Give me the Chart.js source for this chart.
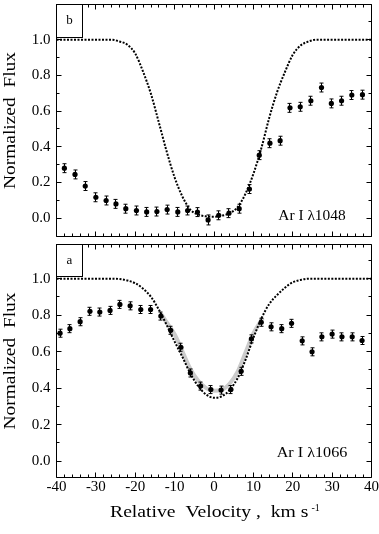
<!DOCTYPE html>
<html>
<head>
<meta charset="utf-8">
<script src="https://cdn.jsdelivr.net/npm/chart.js@4.4.1/dist/chart.umd.min.js"></script>
<style>
  html, body { margin: 0; padding: 0; background: #fff; }
  #wrap { position: relative; width: 379px; height: 534px; }
  canvas { position: absolute; left: 0; }
  #top { top: 0; }
  #bottom { top: 240px; }
</style>
</head>
<body>
<div id="wrap">
  <canvas id="top" width="379" height="240"></canvas>
  <canvas id="bottom" width="379" height="294"></canvas>
</div>
<script>
// panel b: Ar I 1048, measured points and model profile
const velB = [-38.0, -35.3, -32.7, -30.0, -27.4, -24.9, -22.4, -19.7, -17.1, -14.5, -11.9, -9.2, -6.7, -4.2, -1.5,
  1.2, 3.8, 6.4, 9.0, 11.5, 14.2, 16.8, 19.3, 21.9, 24.6, 27.3, 29.8, 32.4, 35.0, 37.7];
const fluxB = [0.28, 0.245, 0.18, 0.117, 0.099, 0.08, 0.053, 0.043, 0.035, 0.037, 0.048, 0.035, 0.043, 0.034, -0.01,
  0.016, 0.028, 0.053, 0.163, 0.353, 0.42, 0.434, 0.618, 0.624, 0.658, 0.732, 0.643, 0.658, 0.69, 0.692];
const errB = [0.025, 0.025, 0.025, 0.025, 0.025, 0.025, 0.025, 0.025, 0.025, 0.025, 0.025, 0.025, 0.025, 0.025, 0.028,
  0.025, 0.025, 0.025, 0.025, 0.025, 0.025, 0.025, 0.025, 0.025, 0.025, 0.025, 0.025, 0.025, 0.025, 0.025];
const modelVelB = [-40, -26, -24, -22, -20, -18, -16, -14, -12, -10, -8, -6, -4, -2, 0, 2, 4, 6, 8, 10, 12, 14, 16, 18, 20, 22, 24, 26, 40];
const modelB = [1.0, 1.0, 0.99, 0.972, 0.922, 0.82, 0.695, 0.535, 0.372, 0.228, 0.12, 0.047, 0.02, 0.01, 0.008,
  0.014, 0.028, 0.062, 0.137, 0.248, 0.39, 0.56, 0.705, 0.818, 0.915, 0.968, 0.99, 1.0, 1.0];

// panel a: Ar I 1066, measured points, model profile and fit
const velA = [-39.1, -36.6, -34.0, -31.5, -29.0, -26.4, -23.9, -21.3, -18.6, -16.1, -13.5, -11.0, -8.4, -6.0, -3.4,
  -0.8, 1.8, 4.3, 6.9, 9.5, 12.0, 14.5, 17.2, 19.7, 22.4, 24.9, 27.4, 30.0, 32.5, 35.1, 37.6];
const fluxA = [0.701, 0.726, 0.764, 0.821, 0.817, 0.826, 0.859, 0.851, 0.831, 0.831, 0.795, 0.717, 0.624, 0.483, 0.411,
  0.392, 0.389, 0.392, 0.492, 0.67, 0.761, 0.736, 0.726, 0.755, 0.659, 0.599, 0.681, 0.696, 0.681, 0.681, 0.661];
const errA = [0.022, 0.022, 0.022, 0.022, 0.022, 0.022, 0.022, 0.022, 0.022, 0.022, 0.022, 0.022, 0.022, 0.022, 0.022,
  0.022, 0.022, 0.022, 0.022, 0.022, 0.022, 0.022, 0.022, 0.022, 0.022, 0.022, 0.022, 0.022, 0.022, 0.022, 0.022];
const modelVelA = [-40, -26, -24, -22, -20, -18, -16, -14, -12, -10, -8, -6, -4, -2, 0, 2, 4, 6, 8, 10, 12, 14, 16, 18, 20, 22, 24, 26, 40];
const modelA = [1.0, 1.0, 0.998, 0.99, 0.975, 0.945, 0.9, 0.83, 0.745, 0.655, 0.57, 0.48, 0.41, 0.365, 0.347,
  0.355, 0.39, 0.455, 0.555, 0.675, 0.78, 0.86, 0.91, 0.95, 0.98, 0.993, 1.0, 1.0, 1.0];
const fitVelA = [-13.4, -12, -10, -8, -6, -4, -2, 0, 2, 4, 6, 8, 10, 12.4];
const fitA = [0.805, 0.76, 0.695, 0.6, 0.505, 0.44, 0.4, 0.385, 0.39, 0.425, 0.49, 0.595, 0.7, 0.785];

const xTicks = [-40, -30, -20, -10, 0, 10, 20, 30, 40];
const yTicks = [0, 0.2, 0.4, 0.6, 0.8, 1.0];

const serif = "'Liberation Serif', 'Times New Roman', serif";
const points = (xs, ys) => xs.map((v, i) => ({ x: v, y: ys[i] }));

// draw text squeezed or stretched to a given width
function fitText(ctx, text, x, y, width) {
  const w = ctx.measureText(text).width;
  ctx.save();
  ctx.translate(x, y);
  ctx.scale(width / w, 1);
  ctx.fillText(text, 0, 0);
  ctx.restore();
}

// error bars, box frame with inward ticks, panel tag and line label
const panelPlugin = (cfg) => ({
  id: "panel" + cfg.tag,
  afterDraw(chart) {
    const { ctx, scales: { x, y } } = chart;
    const L = Math.floor(x.getPixelForValue(x.min)) + 0.5;
    const R = Math.floor(x.getPixelForValue(x.max)) + 0.5;
    const T = Math.floor(y.getPixelForValue(y.max)) + 0.5;
    const B = Math.floor(y.getPixelForValue(y.min)) + 0.5;
    ctx.save();
    ctx.setLineDash([]);
    ctx.strokeStyle = "#000";
    ctx.lineWidth = 1;
    ctx.beginPath();
    chart.data.datasets.forEach(ds => {
      if (!ds.errors) return;
      ds.data.forEach((p, j) => {
        const px = Math.floor(x.getPixelForValue(p.x)) + 0.5;
        const hi = y.getPixelForValue(p.y + ds.errors[j]);
        const lo = y.getPixelForValue(p.y - ds.errors[j]);
        ctx.moveTo(px, hi); ctx.lineTo(px, lo);
        ctx.moveTo(px - 2, hi); ctx.lineTo(px + 2, hi);
        ctx.moveTo(px - 2, lo); ctx.lineTo(px + 2, lo);
      });
    });
    ctx.stroke();

    // frame and ticks on all four sides
    ctx.beginPath();
    ctx.moveTo(L, T); ctx.lineTo(R, T); ctx.lineTo(R, B); ctx.lineTo(L, B); ctx.closePath();
    for (let v = -40; v <= 40; v += 2) {
      const px = Math.floor(x.getPixelForValue(v)) + 0.5;
      const len = v % 10 === 0 ? 5 : 3;
      ctx.moveTo(px, B); ctx.lineTo(px, B - len);
      ctx.moveTo(px, T); ctx.lineTo(px, T + len);
    }
    for (let k = -1; k <= 12; k++) {
      const v = k / 10;
      if (v < y.min || v > y.max) continue;
      const py = Math.floor(y.getPixelForValue(v)) + 0.5;
      const len = k % 2 === 0 ? 5 : 3;
      ctx.moveTo(L, py); ctx.lineTo(L + len, py);
      ctx.moveTo(R, py); ctx.lineTo(R - len, py);
    }
    ctx.stroke();

    // tag box in the top left corner
    ctx.fillStyle = "#fff";
    ctx.fillRect(L, T, 26, cfg.boxH);
    ctx.strokeRect(L, T, 26, cfg.boxH);
    ctx.fillStyle = "#000";
    ctx.font = `13px ${serif}`;
    ctx.textAlign = "center";
    ctx.textBaseline = "alphabetic";
    ctx.fillText(cfg.tag, L + 13, cfg.tagY);

    // line label
    ctx.font = `15px ${serif}`;
    ctx.textAlign = "left";
    fitText(ctx, cfg.label, cfg.labelX, cfg.labelY, cfg.labelW);

    // y axis title
    ctx.save();
    ctx.translate(14.5, (T + B) / 2);
    ctx.rotate(-Math.PI / 2);
    ctx.font = `17px ${serif}`;
    const yTitle = "Normalized  Flux";
    const w = ctx.measureText(yTitle).width;
    ctx.scale(137 / w, 1);
    ctx.fillText(yTitle, -w / 2, 0);
    ctx.restore();

    // x axis title with superscript
    if (cfg.xTitle) {
      ctx.font = `17px ${serif}`;
      fitText(ctx, "Relative  Velocity ,  km s", 110, 277.3, 198.5);
      ctx.font = `10px ${serif}`;
      ctx.fillText("-1", 311.5, 270.7);
    }
    ctx.restore();
  }
});

const yScale = (min, max) => ({
  min, max,
  afterFit: s => { s.width = 56.5; s.paddingTop = 0; s.paddingBottom = 0; },
  afterBuildTicks: s => { s.ticks = yTicks.map(v => ({ value: v })); },
  grid: { display: false, drawTicks: false },
  border: { display: false },
  ticks: { padding: 6, color: "#000", font: { family: serif, size: 15 }, callback: v => v.toFixed(1) }
});

const baseOptions = (padTop, yMin, yMax, showX) => ({
  responsive: false,
  animation: false,
  layout: { padding: { top: padTop, bottom: showX ? 0 : 1.5, left: 0, right: 7.5 } },
  plugins: { legend: { display: false }, tooltip: { enabled: false } },
  scales: {
    x: {
      type: "linear", min: -40, max: 40, display: showX,
      afterFit: s => { s.height = showX ? 56.5 : 0; s.paddingLeft = 0; s.paddingRight = 0; },
      afterBuildTicks: s => { s.ticks = xTicks.map(v => ({ value: v })); },
      grid: { display: false, drawTicks: false },
      border: { display: false },
      ticks: { padding: 1, maxRotation: 0, autoSkip: false, color: "#000", font: { family: serif, size: 15 }, callback: v => String(v) }
    },
    y: yScale(yMin, yMax)
  }
});

const dots = { showLine: true, pointRadius: 0, borderColor: "#000", borderWidth: 2, borderDash: [2, 1.5], cubicInterpolationMode: "monotone", order: 1 };
const marks = { pointRadius: 2.6, pointBackgroundColor: "#000", pointBorderWidth: 0, order: 0 };

new Chart(document.getElementById("top"), {
  type: "scatter",
  data: {
    datasets: [
      { ...marks, data: points(velB, fluxB), errors: errB },
      { ...dots, data: points(modelVelB, modelB) }
    ]
  },
  options: baseOptions(1.5, -0.1, 1.2, false),
  plugins: [panelPlugin({ tag: "b", boxH: 33, tagY: 24, label: "Ar I λ1048", labelX: 278.3, labelY: 219.5, labelW: 67.4 })]
});

new Chart(document.getElementById("bottom"), {
  type: "scatter",
  data: {
    datasets: [
      { ...marks, data: points(velA, fluxA), errors: errA },
      { ...dots, data: points(modelVelA, modelA) },
      { showLine: true, pointRadius: 0, borderColor: "#cccccc", borderWidth: 4, cubicInterpolationMode: "monotone", order: 2, data: points(fitVelA, fitA) }
    ]
  },
  options: baseOptions(2.5, -0.09, 1.19, true),
  plugins: [panelPlugin({ tag: "a", boxH: 32, tagY: 24.3, label: "Ar I λ1066", labelX: 276.7, labelY: 216.7, labelW: 70.6, xTitle: true })]
});
</script>
</body>
</html>
